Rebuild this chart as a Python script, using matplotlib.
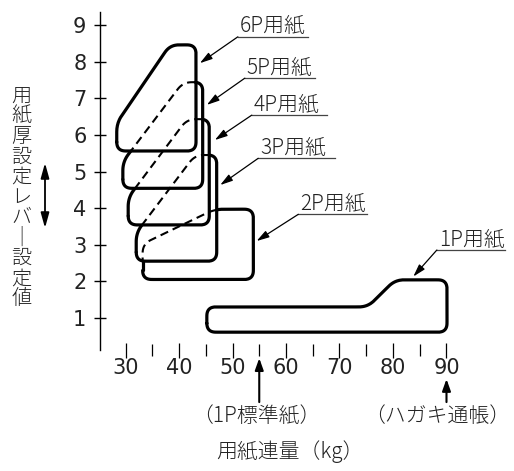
import numpy as np
import matplotlib
matplotlib.use('Agg')
import matplotlib.pyplot as plt
from matplotlib.path import Path

plt.rcParams['font.family'] = ['Noto Sans CJK JP', 'DejaVu Sans']

# ---------------- data ----------------
x_ticks = [30, 40, 50, 60, 70, 80, 90]
x_minor = [35, 45, 55, 65, 75, 85]
y_ticks = [1, 2, 3, 4, 5, 6, 7, 8, 9]

# paper regions: outline vertices (paper weight kg, lever setting)
p1_kg = [45.2, 90.1, 90.1, 80.4, 75.3, 45.2]
p1_lev = [0.61, 0.61, 2.04, 2.04, 1.30, 1.30]
p2_kg = [33.2, 53.9, 53.9, 46.7, 33.2]
p2_lev = [2.05, 2.05, 3.97, 3.97, 3.02]
p3_kg = [32.0, 47.05, 47.05, 43.0, 32.0]
p3_lev = [2.55, 2.55, 5.45, 5.45, 3.33]
p4_kg = [30.5, 45.66, 45.66, 41.5, 30.5]
p4_lev = [3.54, 3.54, 6.43, 6.43, 4.29]
p5_kg = [29.5, 44.43, 44.43, 40.75, 29.5]
p5_lev = [4.54, 4.54, 7.44, 7.44, 5.27]
p6_kg = [28.36, 43.18, 43.18, 38.32, 28.36]
p6_lev = [5.56, 5.56, 8.46, 8.46, 6.33]

label_text = ['1P用紙', '2P用紙', '3P用紙', '4P用紙', '5P用紙', '6P用紙']
label_x0 = [88.2, 62.3, 54.8, 53.6, 52.3, 51.0]
label_x1 = [100.9, 75.1, 69.2, 67.6, 65.4, 64.1]
label_y = [2.855, 3.83, 5.36, 6.54, 7.55, 8.68]
tip_x = [83.8, 54.5, 47.7, 46.7, 45.2, 43.9]
tip_y = [2.13, 3.10, 4.63, 5.86, 6.82, 7.96]

note_text = ['（1P標準紙）', '（ハガキ通帳）']
note_kg = [55, 90]
note_text_kg = [54.4, 88.3]
note_tip_lev = [-0.10, -0.67]

ylabel_text = '用紙厚設定レバー設定値'
xlabel_text = '用紙連量（kg）'

# ---------------- figure ----------------
W, H = 514, 471
fig = plt.figure(figsize=(W / 100, H / 100), dpi=100)
ax = fig.add_axes([100 / W, 121 / H, 414 / W, 338 / H])
ax.set_xlim(25.23, 102.62)
ax.set_ylim(0.123, 9.358)
for s in ['top', 'right', 'bottom']:
    ax.spines[s].set_visible(False)
ax.spines['left'].set_linewidth(1.0)
ax.patch.set_visible(False)

ax.set_yticks(y_ticks, [str(v) for v in y_ticks])
ax.set_xticks(x_ticks, [str(v) for v in x_ticks])
ax.set_xticks(x_minor, minor=True)
ax.tick_params(axis='y', direction='inout', length=8.6, width=1.0, pad=5.5,
               labelsize=15, labelcolor='#222')
ax.tick_params(axis='x', which='major', direction='inout', length=10.8,
               width=0.9, pad=0, labelsize=15, labelcolor='#222')
ax.tick_params(axis='x', which='minor', direction='inout', length=8.6, width=0.9)
for lab in ax.get_xticklabels() + ax.get_yticklabels():
    lab.set_fontfamily('DejaVu Sans')

T = ax.transData
inv = T.inverted()


def outline(kx, ly, r=9.0, n=12, step=1.0):
    P = T.transform(np.column_stack([kx, ly]))
    m = len(P)
    pts = []
    for i in range(m):
        a0, v, a1 = P[i - 1], P[i], P[(i + 1) % m]
        d0 = a0 - v
        d1 = a1 - v
        l0 = np.hypot(*d0)
        l1 = np.hypot(*d1)
        rr = min(r, 0.45 * l0, 0.45 * l1)
        s = v + d0 / l0 * rr
        e = v + d1 / l1 * rr
        t = np.linspace(0, 1, n)[:, None]
        pts.append((1 - t) ** 2 * s + 2 * (1 - t) * t * v + t ** 2 * e)
    pts = np.vstack(pts + [pts[0][:1]])
    seg = np.diff(pts, axis=0)
    L = np.hypot(seg[:, 0], seg[:, 1])
    out = [pts[:1]]
    for p, d, l in zip(pts[:-1], seg, L):
        k = max(1, int(np.ceil(l / step)))
        t = (np.arange(1, k + 1) / k)[:, None]
        out.append(p + d * t)
    return np.vstack(out)


regions = [(p1_kg, p1_lev), (p2_kg, p2_lev), (p3_kg, p3_lev),
           (p4_kg, p4_lev), (p5_kg, p5_lev), (p6_kg, p6_lev)]
outs = [outline(kx, ly) for kx, ly in regions]

for i, pts in enumerate(outs):
    inside = np.zeros(len(pts), bool)
    for j in range(i + 1, len(outs)):
        inside |= Path(outs[j]).contains_points(pts)
    idx = list(np.flatnonzero(np.diff(inside.astype(int))) + 1)
    bounds = [0] + idx + [len(pts)]
    for a, b in zip(bounds[:-1], bounds[1:]):
        seg = inv.transform(pts[a:min(b + 1, len(pts))])
        if inside[a]:
            ax.plot(seg[:, 0], seg[:, 1], color='black', lw=1.5,
                    ls=(0, (4, 2.4)), dash_capstyle='butt')
        else:
            ax.plot(seg[:, 0], seg[:, 1], color='black', lw=2.3,
                    solid_capstyle='round', solid_joinstyle='round')

# labels with underline + arrow
for txt, x0, x1, yy, tx, ty in zip(label_text, label_x0, label_x1, label_y, tip_x, tip_y):
    ax.plot([x0, x1], [yy, yy], color='#444', lw=0.9, clip_on=False)
    ax.annotate(txt, xy=(x0, yy), xytext=(1.5, 3.4), textcoords='offset points',
                ha='left', va='baseline', fontsize=15, color='#222',
                fontweight='light', annotation_clip=False)
    ax.annotate('', xy=(tx, ty), xytext=(x0, yy),
                arrowprops=dict(arrowstyle='-|>,head_length=0.75,head_width=0.22',
                                lw=0.9, color='black', shrinkA=0, shrinkB=0,
                                mutation_scale=10),
                annotation_clip=False)

# notes below the axis
for txt, xk, xt, tl in zip(note_text, note_kg, note_text_kg, note_tip_lev):
    ax.text(xt, -1.69, txt, ha='center', va='center', fontsize=15, color='#222',
            fontweight='light', clip_on=False)
    ax.annotate('', xy=(xk, tl), xytext=(xk, -1.30),
                arrowprops=dict(arrowstyle='-|>,head_length=0.7,head_width=0.25',
                                lw=1.5, color='black', shrinkA=0, shrinkB=0,
                                mutation_scale=10),
                annotation_clip=False)

ax.text(60.8, -2.66, xlabel_text, ha='center', va='center', fontsize=15,
        color='#222', fontweight='light', clip_on=False)

# vertical y label (stacked characters)
for i, ch in enumerate(ylabel_text):
    if ch == 'ー':
        ch = '｜'
    fig.text(21.5 / W, 1 - (96 + i * 20.3) / H, ch, ha='center', va='center',
             fontsize=14.5, color='#222', fontweight='light')

# double-headed arrow next to y label
ax.annotate('', xy=(45, H - 163), xytext=(45, H - 228), xycoords='figure pixels',
            textcoords='figure pixels',
            arrowprops=dict(arrowstyle='<|-|>,head_length=0.9,head_width=0.25',
                            lw=1.3, color='black', shrinkA=0, shrinkB=0,
                            mutation_scale=10),
            annotation_clip=False)

fig.savefig('out.png', dpi=100)
